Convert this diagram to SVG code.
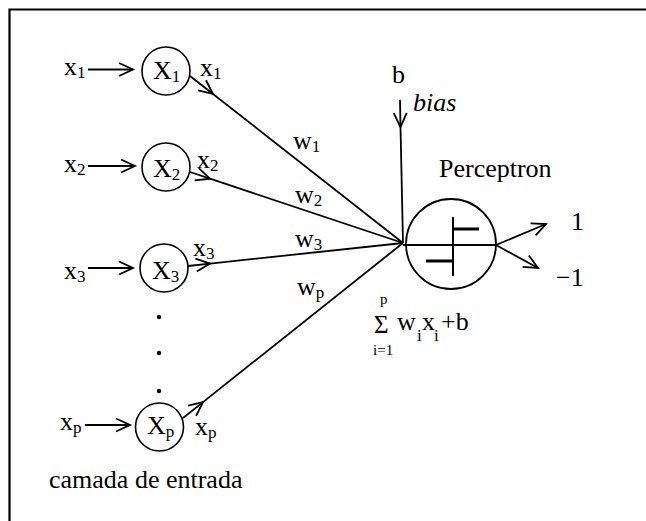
<svg xmlns="http://www.w3.org/2000/svg" width="646" height="521" viewBox="0 0 646 521" font-family="'Liberation Serif', 'Times New Roman', serif">
<style>
text{font-family:"Liberation Serif","Times New Roman",serif;font-size:26px;fill:#000}
.sub{font-size:17px}
.sm{font-size:15px}
.ln{fill:none;stroke:#000;stroke-width:1.8}
.nd{fill:#fff;stroke:#000;stroke-width:1.6}
</style>
<defs>
<marker id="ah" markerUnits="userSpaceOnUse" orient="auto" markerWidth="20" markerHeight="20" refX="0" refY="0" overflow="visible">
<path d="M-14,-6.5 L0,0 L-14,6.5" fill="none" stroke="#000" stroke-width="1.8"/>
</marker>
</defs>
<rect width="646" height="521" fill="#fff"/>
<path d="M9.5,521 V9.5 H646" fill="none" stroke="#000" stroke-width="2.2"/>

<g id="connectors">
<path class="ln" d="M88,69.5 H133" marker-end="url(#ah)"/>
<path class="ln" d="M88,166 H135" marker-end="url(#ah)"/>
<path class="ln" d="M88,268 H133" marker-end="url(#ah)"/>
<path class="ln" d="M85,425 H130" marker-end="url(#ah)"/>
<path class="ln" d="M190,76 L213,94 L403,243" marker-mid="url(#ah)"/>
<path class="ln" d="M190,172 L210,178.7 L403,243" marker-mid="url(#ah)"/>
<path class="ln" d="M188,266 L210,263.6 L403,243" marker-mid="url(#ah)"/>
<path class="ln" d="M183,418 L203,402.1 L403,243" marker-mid="url(#ah)"/>
<path class="ln" d="M400,100 L400.5,127 L403,243" marker-mid="url(#ah)"/>
<path class="ln" d="M496,245 L546,224" marker-end="url(#ah)"/>
<path class="ln" d="M496,245 L538,268" marker-end="url(#ah)"/>
</g>

<g id="in1">
<text x="64" y="75">x<tspan class="sub" dy="3">1</tspan></text>
<circle class="nd" cx="166" cy="71" r="24"/>
<text x="153" y="79">X<tspan class="sub" dy="3">1</tspan></text>
<text x="200" y="76">x<tspan class="sub" dy="3">1</tspan></text>
</g>
<g id="in2">
<text x="64" y="172">x<tspan class="sub" dy="3">2</tspan></text>
<circle class="nd" cx="166" cy="167" r="24"/>
<text x="153" y="177">X<tspan class="sub" dy="3">2</tspan></text>
<text x="197" y="168">x<tspan class="sub" dy="3">2</tspan></text>
</g>
<g id="in3">
<text x="64" y="279">x<tspan class="sub" dy="3">3</tspan></text>
<circle class="nd" cx="164" cy="268" r="24"/>
<text x="152" y="279">X<tspan class="sub" dy="3">3</tspan></text>
<text x="193" y="256">x<tspan class="sub" dy="3">3</tspan></text>
</g>
<g id="dots">
<circle cx="159" cy="317" r="2.2"/>
<circle cx="159" cy="353" r="2.2"/>
<circle cx="159" cy="391" r="2.2"/>
</g>
<g id="inp">
<text x="60" y="430">x<tspan class="sub" dy="3">p</tspan></text>
<circle class="nd" cx="159.5" cy="427" r="24"/>
<text x="147" y="434">X<tspan class="sub" dy="3">p</tspan></text>
<text x="195" y="435">x<tspan class="sub" dy="3">p</tspan></text>
</g>
<g id="weights">
<text x="293" y="149">w<tspan class="sub" dy="3">1</tspan></text>
<text x="295" y="203">w<tspan class="sub" dy="3">2</tspan></text>
<text x="295" y="247">w<tspan class="sub" dy="3">3</tspan></text>
<text x="297" y="295">w<tspan class="sub" dy="3">p</tspan></text>
</g>
<g id="bias">
<text x="392" y="83">b</text>
<text x="413" y="111" font-style="italic">bias</text>
</g>
<g id="perceptron">
<text x="439" y="177">Perceptron</text>
<circle cx="451" cy="244" r="45" fill="none" stroke="#000" stroke-width="1.8"/>
<path d="M403,245 H496" class="ln"/>
<path d="M453,217 V276" fill="none" stroke="#000" stroke-width="2"/>
<path d="M453,229 H479 M426,261 H453" fill="none" stroke="#000" stroke-width="3"/>
</g>
<g id="outputs">
<text x="571" y="230">1</text>
<text x="556" y="286">−1</text>
</g>
<g id="sum">
<text x="380" y="304" class="sm">p</text>
<text x="374" y="333" style="font-size:25px">Σ</text>
<text x="373" y="355" class="sm">i=1</text>
<text x="397" y="330">w</text>
<text x="417" y="341" class="sub">i</text>
<text x="422" y="330">x</text>
<text x="434" y="341" class="sub">i</text>
<text x="441" y="330">+b</text>
</g>
<g id="label">
<text x="49" y="488">camada de entrada</text>
</g>
</svg>
